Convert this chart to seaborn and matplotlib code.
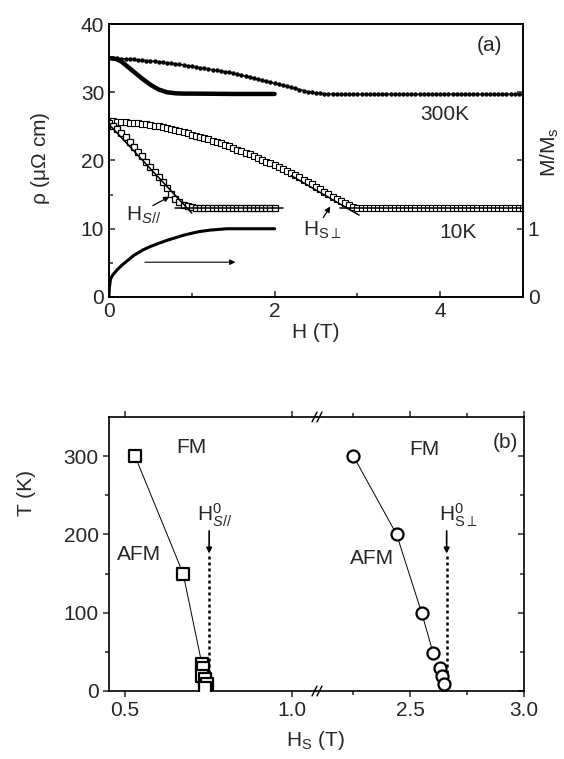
import numpy as np
import pandas as pd
import seaborn as sns
import matplotlib
matplotlib.use('Agg')
from matplotlib import pyplot as plt

sns.set_style('ticks')
plt.rcParams['font.family'] = ['Liberation Sans', 'DejaVu Sans']
plt.rcParams['mathtext.fontset'] = 'custom'
plt.rcParams['mathtext.rm'] = 'Liberation Sans'
plt.rcParams['mathtext.it'] = 'Liberation Sans:italic'
plt.rcParams['mathtext.default'] = 'regular'
plt.rcParams['axes.linewidth'] = 1.2
plt.rcParams['axes.edgecolor'] = 'black'
FS = 15

# %%
# panel (a) data
h_fine = [0.0, 0.05, 0.1, 0.15, 0.2, 0.25, 0.3, 0.35, 0.4, 0.45,
          0.5, 0.55, 0.6, 0.65, 0.7, 0.75, 0.8, 0.85, 0.9, 0.95,
          1.0, 1.05, 1.1, 1.15, 1.2, 1.25, 1.3, 1.35, 1.4, 1.45,
          1.5, 1.55, 1.6, 1.65, 1.7, 1.75, 1.8, 1.85, 1.9, 1.95,
          2.0, 2.05, 2.1, 2.15, 2.2, 2.25, 2.3, 2.35, 2.4, 2.45,
          2.5, 2.55, 2.6, 2.65, 2.7, 2.75, 2.8, 2.85, 2.9, 2.95,
          3.0, 3.05, 3.1, 3.15, 3.2, 3.25, 3.3, 3.35, 3.4, 3.45,
          3.5, 3.55, 3.6, 3.65, 3.7, 3.75, 3.8, 3.85, 3.9, 3.95,
          4.0, 4.05, 4.1, 4.15, 4.2, 4.25, 4.3, 4.35, 4.4, 4.45,
          4.5, 4.55, 4.6, 4.65, 4.7, 4.75, 4.8, 4.85, 4.9, 4.95,
          5.0]

# 300K, H perpendicular (small dots)
rho_300_perp = [35.0, 34.97, 34.95, 34.92, 34.9, 34.85, 34.8, 34.75, 34.7, 34.65,
                34.6, 34.52, 34.45, 34.37, 34.3, 34.22, 34.15, 34.07, 34.0, 33.9,
                33.8, 33.7, 33.6, 33.5, 33.4, 33.3, 33.2, 33.1, 33.0, 32.9,
                32.8, 32.65, 32.5, 32.35, 32.2, 32.05, 31.9, 31.75, 31.6, 31.45,
                31.3, 31.15, 31.0, 30.85, 30.7, 30.55, 30.4, 30.25, 30.1, 30.0,
                29.9, 29.85, 29.8, 29.77, 29.75, 29.72, 29.7, 29.7, 29.7, 29.7,
                29.7, 29.7, 29.7, 29.7, 29.7, 29.7, 29.7, 29.7, 29.7, 29.7,
                29.7, 29.7, 29.7, 29.7, 29.7, 29.7, 29.7, 29.7, 29.7, 29.7,
                29.7, 29.7, 29.7, 29.7, 29.7, 29.7, 29.7, 29.7, 29.7, 29.7,
                29.7, 29.7, 29.7, 29.7, 29.7, 29.7, 29.7, 29.7, 29.7, 29.7,
                29.7]

# 10K, H perpendicular (small open squares)
rho_10_perp = [25.8, 25.75, 25.7, 25.65, 25.6, 25.55, 25.5, 25.45, 25.4, 25.3,
               25.2, 25.1, 25.0, 24.9, 24.8, 24.65, 24.5, 24.35, 24.2, 24.0,
               23.8, 23.6, 23.45, 23.3, 23.1, 22.9, 22.7, 22.5, 22.3, 22.1,
               21.85, 21.6, 21.4, 21.15, 20.9, 20.65, 20.4, 20.1, 19.85, 19.6,
               19.3, 19.0, 18.75, 18.5, 18.2, 17.9, 17.55, 17.2, 16.9, 16.5,
               16.15, 15.8, 15.4, 15.05, 14.7, 14.35, 14.0, 13.7, 13.45, 13.25,
               13.1, 13.05, 13.0, 13.0, 13.0, 13.0, 13.0, 13.0, 13.0, 13.0,
               13.0, 13.0, 13.0, 13.0, 13.0, 13.0, 13.0, 13.0, 13.0, 13.0,
               13.0, 13.0, 13.0, 13.0, 13.0, 13.0, 13.0, 13.0, 13.0, 13.0,
               13.0, 13.0, 13.0, 13.0, 13.0, 13.0, 13.0, 13.0, 13.0, 13.0,
               13.0]

# 300K, H parallel (thick line)
h_300_par = [0.0, 0.05, 0.1, 0.15, 0.2, 0.3, 0.4, 0.5, 0.6, 0.7, 0.8, 0.9, 1.0, 1.5, 2.0]
rho_300_par = [35.0, 34.95, 34.8, 34.5, 34.0, 33.0, 32.0, 31.1, 30.4, 30.0, 29.85, 29.8,
               29.8, 29.75, 29.75]

# 10K, H parallel (open squares)
h_10_par = [0.0, 0.05, 0.1, 0.15, 0.2, 0.25, 0.3, 0.35, 0.4, 0.45, 0.5, 0.55, 0.6, 0.65,
            0.7, 0.75, 0.8, 0.85, 0.9, 0.95, 1.0, 1.05, 1.1, 1.15, 1.2, 1.25, 1.3, 1.35,
            1.4, 1.45, 1.5, 1.55, 1.6, 1.65, 1.7, 1.75, 1.8, 1.85, 1.9, 1.95, 2.0]
rho_10_par = [25.5, 25.1, 24.6, 24.0, 23.4, 22.7, 22.0, 21.3, 20.6, 19.85, 19.1, 18.35,
              17.6, 16.8, 15.9, 15.1, 14.4, 13.9, 13.5, 13.3, 13.2, 13.1, 13.1, 13.0,
              13.0, 13.0, 13.0, 13.0, 13.0, 13.0, 13.0, 13.0, 13.0, 13.0, 13.0, 13.0,
              13.0, 13.0, 13.0, 13.0, 13.0]

# magnetisation, right axis
h_mag = [0.0, 0.005, 0.02, 0.05, 0.1, 0.15, 0.22, 0.3, 0.41, 0.5, 0.62, 0.7, 0.82, 0.9,
         1.02, 1.1, 1.22, 1.32, 1.42, 1.7, 2.0]
m_mag = [0.0, 0.15, 0.27, 0.33, 0.40, 0.46, 0.53, 0.61, 0.69, 0.74, 0.795, 0.83, 0.875,
         0.905, 0.94, 0.96, 0.98, 0.99, 1.0, 1.0, 1.0]

# straight guide lines used to find the saturation fields
h_tan_par = [0.0, 1.0]
rho_tan_par = [25.3, 12.3]
h_flat_par = [0.8, 2.1]
rho_flat_par = [13.0, 13.0]
h_tan_perp = [2.2, 3.02]
rho_tan_perp = [17.8, 12.0]
h_flat_perp = [2.79, 5.0]
rho_flat_perp = [13.0, 13.0]

# %%
# panel (b) data
hs_par = [0.53, 0.674, 0.73, 0.735, 0.73, 0.74, 0.745, 0.74]
t_par = [300, 150, 35, 30, 19, 15, 9, 4]
hs_perp = [2.25, 2.44, 2.55, 2.60, 2.63, 2.64, 2.65]
t_perp = [300, 200, 100, 49, 30, 19, 9]
hs0_par = 0.752
hs0_perp = 2.66

# %%
fig = plt.figure(figsize=(5.64, 7.59), dpi=100)
ax = fig.add_axes([109 / 564, 1 - 297 / 759, 414 / 564, 273 / 759])

line_kw = dict(estimator=None, sort=False, ax=ax, color='black', legend=False)
sns.lineplot(x=h_fine, y=rho_300_perp, marker='o', markersize=3.2, lw=1.0,
             markeredgewidth=0, **line_kw)
sns.lineplot(x=h_300_par, y=rho_300_par, lw=3.2, **line_kw)
sns.lineplot(x=h_fine, y=rho_10_perp, marker='s', markersize=4, lw=0.8,
             markerfacecolor='white', markeredgecolor='black', markeredgewidth=0.8, **line_kw)
sns.lineplot(x=h_10_par, y=rho_10_par, marker='s', markersize=4.6, lw=0,
             markerfacecolor='white', markeredgecolor='black', markeredgewidth=0.9, **line_kw)
for hx, ry in [(h_tan_par, rho_tan_par), (h_flat_par, rho_flat_par),
               (h_tan_perp, rho_tan_perp), (h_flat_perp, rho_flat_perp)]:
    sns.lineplot(x=hx, y=ry, lw=1.1, **line_kw)

ax.set_xlim(0, 5)
ax.set_ylim(0, 40)
ax.set_xticks([0, 2, 4])
ax.set_xticks([1, 3, 5], minor=True)
ax.set_yticks([0, 10, 20, 30, 40])
ax.set_yticks([5, 15, 25, 35], minor=True)
ax.tick_params(which='both', direction='in', labelsize=FS, width=1.1)
ax.tick_params(which='major', length=4)
ax.tick_params(which='minor', length=3)
ax.set_xlabel('')
ax.set_ylabel('')

ax2 = ax.twinx()
sns.lineplot(x=h_mag, y=m_mag, ax=ax2, color='black', lw=2.2, estimator=None, sort=False)
ax2.set_ylim(0, 4)
ax2.set_yticks([0, 1, 2, 3])
ax2.set_yticklabels(['0', '1', '', ''])
ax2.tick_params(direction='in', length=4, labelsize=FS, width=1.1)
ax2.set_ylabel('')

ax.text(4.6, 36.9, '(a)', ha='center', va='center', fontsize=FS)
ax.text(4.05, 26.7, '300K', ha='center', va='center', fontsize=FS)
ax.text(4.21, 9.4, '10K', ha='center', va='center', fontsize=FS)
ax.text(0.2, 12.0, r'$H_{\mathit{S//}}$', ha='left', va='center', fontsize=FS)
ax.text(2.34, 9.7, r'$H_{S\perp}$', ha='left', va='center', fontsize=FS)
arr = dict(arrowstyle='-|>', color='black', lw=0.9, mutation_scale=8)
ax.annotate('', xy=(0.76, 14.9), xytext=(0.50, 13.2), arrowprops=arr)
ax.annotate('', xy=(2.69, 13.6), xytext=(2.57, 11.3), arrowprops=arr)
ax.annotate('', xy=(1.56, 5.1), xytext=(0.40, 5.1),
            arrowprops=dict(arrowstyle='-|>', color='black', lw=0.8, mutation_scale=8))

fig.text(0.56, 1 - 332 / 759, 'H (T)', ha='center', va='center', fontsize=FS)
fig.text(40 / 564, 1 - 158 / 759, r'$\rho$ ($\mu\Omega$ cm)', rotation=90,
         ha='center', va='center', fontsize=FS)
fig.text(550 / 564, 1 - 152 / 759, r'M/M$_s$', rotation=90, ha='center', va='center',
         fontsize=FS)

# %%
# panel (b): broken x axis
bl = fig.add_axes([109 / 564, 1 - 691 / 759, 208 / 564, 274 / 759])
br = fig.add_axes([317 / 564, 1 - 691 / 759, 207 / 564, 274 / 759], sharey=bl)

sns.lineplot(x=hs_par[:3], y=t_par[:3], ax=bl, color='black', lw=0.7,
             estimator=None, sort=False)
sns.scatterplot(x=hs_par, y=t_par, ax=bl, marker='s', s=70, facecolor='white',
                edgecolor='black', linewidth=1.6, zorder=3)
sns.lineplot(x=hs_perp[:4], y=t_perp[:4], ax=br, color='black', lw=0.7,
             estimator=None, sort=False)
sns.scatterplot(x=hs_perp, y=t_perp, ax=br, marker='o', s=75, facecolor='white',
                edgecolor='black', linewidth=1.6, zorder=3)

bl.set_xlim(0.452, 1.075)
br.set_xlim(2.09, 3.0)
bl.set_ylim(0, 350)
bl.set_xticks([0.5, 1.0])
bl.set_xticklabels(['0.5', '1.0'])
br.set_xticks([2.5, 3.0])
br.set_xticklabels(['2.5', '3.0'])
br.set_xticks([2.25, 2.75], minor=True)
bl.set_yticks([0, 100, 200, 300])
bl.set_yticks([50, 150, 250], minor=True)

bl.spines['right'].set_visible(False)
br.spines['left'].set_visible(False)
for a in (bl, br):
    a.set_xlabel('')
    a.set_ylabel('')
    a.tick_params(axis='x', which='both', bottom=True, top=True, labelsize=FS, length=4,
                  width=1.1)
bl.tick_params(axis='y', which='both', left=True, right=False, labelsize=FS, length=4,
               width=1.1)
br.tick_params(axis='y', which='both', left=False, right=True, labelleft=False,
               direction='in', length=4, width=1.1)
bl.tick_params(which='minor', length=3)
br.tick_params(which='minor', length=3)

for a, x0, lab in [(bl, hs0_par, r'$H^0_{\mathit{S//}}$'), (br, hs0_perp, r'$H^0_{S\perp}$')]:
    a.plot([x0, x0], [0, 172], color='black', lw=1.8, ls=(0, (1.2, 1.2)))
    a.annotate('', xy=(x0, 172), xytext=(x0, 208),
               arrowprops=dict(arrowstyle='-|>', color='black', lw=1.2, mutation_scale=8))
    a.text(x0 - 0.035, 224, lab, ha='left', va='center', fontsize=FS)

bl.text(0.70, 311, 'FM', ha='center', va='center', fontsize=FS)
bl.text(0.542, 175, 'AFM', ha='center', va='center', fontsize=FS)
br.text(2.56, 308, 'FM', ha='center', va='center', fontsize=FS)
br.text(2.33, 169, 'AFM', ha='center', va='center', fontsize=FS)
br.text(2.92, 318, '(b)', ha='center', va='center', fontsize=FS)

# break marks
for yb in (0, 1):
    for dx in (-0.012, 0.012):
        br.plot([dx - 0.012, dx + 0.012], [yb - 0.018, yb + 0.018], transform=br.transAxes,
                color='black', lw=1.0, clip_on=False)

fig.text(0.56, 1 - 740 / 759, r'H$_S$ (T)', ha='center', va='center', fontsize=FS)
fig.text(26 / 564, 1 - 493 / 759, 'T (K)', rotation=90, ha='center', va='center',
         fontsize=FS)

fig.savefig('out.png', dpi=100)
